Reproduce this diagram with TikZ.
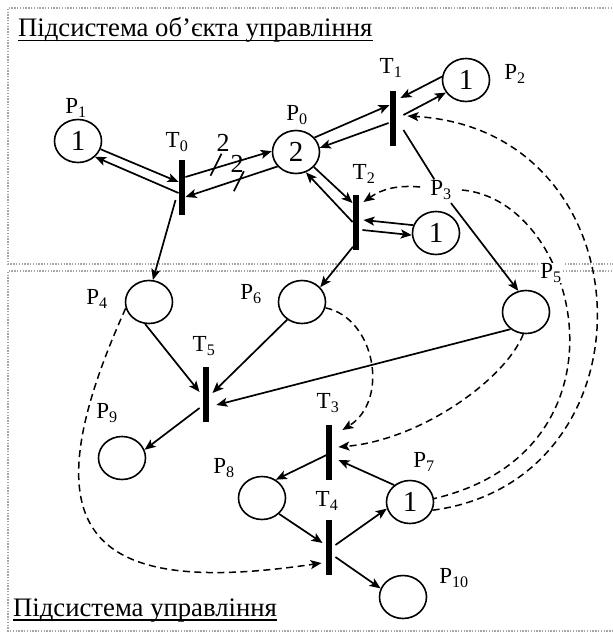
\documentclass[tikz,border=0pt]{standalone}
\usepackage{fontspec}
\setmainfont{Liberation Serif}
\usetikzlibrary{arrows.meta,shapes.geometric,calc}
\begin{document}
\begin{tikzpicture}[x=1pt,y=-1pt,
  place/.style={draw,ellipse,line width=1.6pt,minimum width=47pt,minimum height=43pt,inner sep=0pt,font=\fontsize{29}{30}\selectfont},
  trans/.style={fill=black,draw=none,rectangle,minimum width=6.5pt,minimum height=55pt,inner sep=0pt},
  lbl/.style={font=\fontsize{23}{24}\selectfont,inner sep=1pt},
  wlbl/.style={lbl,fill=white},
  wgt/.style={font=\fontsize{26}{27}\selectfont,inner sep=0pt},
  arc/.style={line width=1.7pt,-{Stealth[length=11pt,width=9pt,inset=2.5pt]}},
  plain/.style={line width=1.7pt},
  ctrl/.style={line width=1.5pt,dash pattern=on 7pt off 4.5pt,-{Stealth[length=11pt,width=9pt,inset=2.5pt]}},
  ctrlplain/.style={line width=1.5pt,dash pattern=on 7pt off 4.5pt},
  frame/.style={draw=gray!70,line width=1.4pt,dash pattern=on 1.4pt off 1.4pt},
  title/.style={font=\fontsize{26.7}{28}\selectfont,anchor=base west,inner sep=0pt}
]
\useasboundingbox (0,0) rectangle (613,633);
% frames
\draw[frame] (640,8) -- (8,8) -- (8,264) -- (640,264);
\draw[frame] (640,271) -- (8,271) -- (8,631) -- (640,631);
% titles
\node[title] (ttop) at (18,36) {Підсистема об’єкта управління};
\draw[line width=1.4pt] ($(ttop.base west)+(0,4.5)$) -- ($(ttop.base east)+(0,4.5)$);
\node[title] (tbot) at (13,616) {Підсистема управління};
\draw[line width=1.4pt] ($(tbot.base west)+(0,4)$) -- ($(tbot.base east)+(0,4)$);
% places
\node[place] (P1) at (78,141) {1};
\node[place] (P0) at (296,152) {2};
\node[place] (P2) at (466,80) {1};
\node[place] (Pa) at (436,233) {1};
\node[place] (P4) at (149,302) {};
\node[place] (P6) at (302,302) {};
\node[place] (P5) at (526,312) {};
\node[place] (P9) at (122,458) {};
\node[place] (P8) at (262,498) {};
\node[place] (P7) at (410,502) {1};
\node[place] (P10) at (403,597) {};
\node[wlbl] (P3) at (441,190) {P\textsubscript{3}};
% transitions
\node[trans] (T0) at (182,187) {};
\node[trans] (T1) at (393,118) {};
\node[trans] (T2) at (356,222) {};
\node[trans] (T5) at (206,394) {};
\node[trans] (T3) at (329,452) {};
\node[trans] (T4) at (329,547) {};
% T0 arcs
\draw[arc] (P1.-20) -- ($(T0.west)+(0,-5)$);
\draw[arc] ($(T0.west)+(0,6)$) -- (P1.-43);
\draw[arc] ($(T0.east)+(0,-10)$) -- coordinate[pos=0.36] (k1) (P0.178);
\draw[arc] (P0.218) -- coordinate[pos=0.42] (k2) ($(T0.east)+(0,10)$);
\draw[plain] ($(k1)+(-6,8)$) -- ($(k1)+(5,-14)$);
\draw[plain] ($(k2)+(-5,12)$) -- ($(k2)+(5,-8)$);
\node[wgt] (w1) at (223,143) {2};
\node[wgt] (w2) at (237,164) {2};
\draw[arc] ($(T0.west)+(-3,13)$) -- (P4.80);
% T1 arcs
\draw[arc] (P0.38) -- ($(T1.west)+(0,-13)$);
\draw[arc] ($(T1.west)+(-1,5)$) -- (P0.10);
\draw[arc] (P2.172) -- ($(T1.east)+(4,-20)$);
\draw[arc] ($(T1.east)+(7,-3)$) -- (P2.212);
\draw[plain] ($(T1.east)+(7,12)$) -- (P3);
% T2 arcs
\draw[arc] (P0.-40) -- ($(T2.west)+(0,-19)$);
\draw[arc] (T2.west) -- (P0.-64);
\draw[arc] (Pa.161) -- ($(T2.east)+(4,-2)$);
\draw[arc] ($(T2.east)+(3,8)$) -- (Pa.185);
\draw[arc] ($(T2.south)+(-3,-3)$) -- (P6.39);
\draw[arc,shorten <=3pt] (P3) -- (P5.110);
% T5 arcs
\draw[arc] (P4.-100) -- ($(T5.west)+(-3,-2)$);
\draw[arc] (P6.-130) -- ($(T5.east)+(3,-1)$);
\draw[arc] (P5.-132) -- ($(T5.east)+(7,11)$);
\draw[arc] ($(T5.west)+(-3,14)$) -- (P9.20);
% T3 / T4 arcs
\draw[arc] (P7.133) -- ($(T3.east)+(6,8)$);
\draw[arc] ($(T3.west)+(1,3)$) -- (P8.53);
\draw[arc] (P8.-43) -- ($(T4.west)+(-3,-4)$);
\draw[arc] ($(T4.east)+(3,-2)$) -- (P7.196);
\draw[arc] ($(T4.east)+(3,10)$) -- (P10.159);
% dashed (control) arcs
\draw[ctrl] ($(P3.west)+(-9,-3)$) to[bend right=20] ($(T2.east)+(4,-20)$);
\draw[ctrl] (P7.-20) .. controls (660,480) and (650,130) .. ($(T1.east)+(11,-2)$);
\draw[ctrlplain] ($(P3.east)+(9,0)$) .. controls (580,200) and (640,450) .. (P7.8);
\draw[ctrl] (P6.-14) .. controls (375,318) and (390,400) .. ($(T3.east)+(10,-22)$);
\draw[ctrl] (P5.-97) .. controls (505,380) and (420,440) .. ($(T3.east)+(6,-5)$);
\draw[ctrl] (P4.195) .. controls (22,538) and (92,597) .. ($(T4.west)+(-4,16)$);
% labels
\node[lbl] (lP1) at (76,108) {P\textsubscript{1}};
\node[lbl] (lP0) at (297,115) {P\textsubscript{0}};
\node[lbl] (lP2) at (515,74) {P\textsubscript{2}};
\node[lbl] (lT0) at (177,142) {T\textsubscript{0}};
\node[lbl] (lT1) at (391,68) {T\textsubscript{1}};
\node[lbl] (lT2) at (364,174) {T\textsubscript{2}};
\node[lbl] (lP4) at (97,299) {P\textsubscript{4}};
\node[lbl] (lP6) at (251,294) {P\textsubscript{6}};
\node[wlbl] (lP5) at (551,273) {P\textsubscript{5}};
\node[lbl] (lT5) at (204,346) {T\textsubscript{5}};
\node[lbl] (lP9) at (107,413) {P\textsubscript{9}};
\node[lbl] (lT3) at (328,403) {T\textsubscript{3}};
\node[lbl] (lP8) at (224,468) {P\textsubscript{8}};
\node[lbl] (lT4) at (327,501) {T\textsubscript{4}};
\node[lbl] (lP7) at (424,462) {P\textsubscript{7}};
\node[lbl] (lP10) at (454,578) {P\textsubscript{10}};
\end{tikzpicture}
\end{document}
